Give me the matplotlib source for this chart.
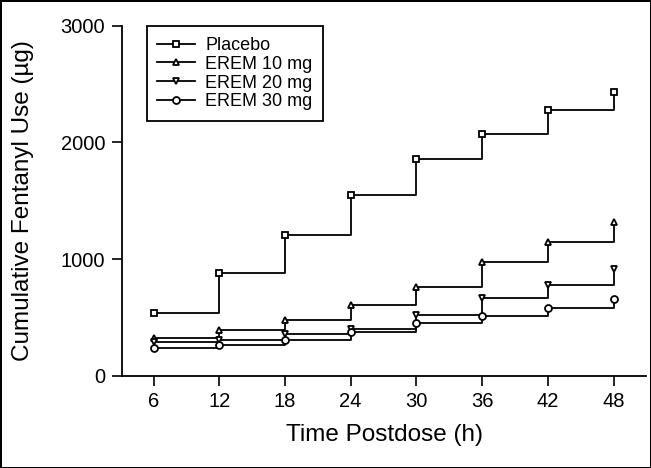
# cumulative fentanyl use vs time postdose, step plot
import numpy as np
import matplotlib.pyplot as plt

plt.rcParams['font.family'] = ['Liberation Sans', 'DejaVu Sans']

hours = [6, 12, 18, 24, 30, 36, 42, 48]
placebo = [540, 880, 1210, 1550, 1855, 2075, 2275, 2435]
erem10 = [320, 395, 478, 603, 760, 975, 1148, 1318]
erem20 = [288, 310, 358, 405, 522, 667, 782, 914]
erem30 = [235, 262, 306, 376, 451, 511, 577, 661]

series = [('Placebo', placebo, 's'),
          ('EREM 10 mg', erem10, '^'),
          ('EREM 20 mg', erem20, 'v'),
          ('EREM 30 mg', erem30, 'o')]

fig = plt.figure(figsize=(6.51, 4.68), dpi=100)
fig.patch.set_edgecolor('black')
fig.patch.set_linewidth(2)
ax = fig.add_axes([0.187, 0.197, 0.806, 0.748])

for name, vals, mk in series:
    ax.plot(hours, vals, drawstyle='steps-post', color='black', lw=1.3,
            marker=mk, ms=5, mfc='white', mec='black', mew=1.3, label=name)

ax.set_xlim(3.1, 51.0)
ax.set_ylim(0, 3000)
ax.set_xticks(hours)
ax.set_yticks([0, 1000, 2000, 3000])
ax.spines['top'].set_visible(False)
ax.spines['right'].set_visible(False)
for s in ['left', 'bottom']:
    ax.spines[s].set_linewidth(1.3)
ax.tick_params(direction='out', length=7, width=1.2, labelsize=14.5, pad=5)

ax.set_xlabel('Time Postdose (h)', fontsize=17.5)
ax.set_ylabel('Cumulative Fentanyl Use (µg)', fontsize=17.5)
ax.xaxis.set_label_coords(0.5, -0.138)
ax.yaxis.set_label_coords(-0.168, 0.5)

leg = ax.legend(loc='upper left', bbox_to_anchor=(0.048, 0.998), borderaxespad=0,
                fontsize=13, fancybox=False, framealpha=1, edgecolor='black',
                handlelength=2.1, handletextpad=0.55, labelspacing=0.1,
                borderpad=0.58)
leg.get_frame().set_linewidth(1.3)

plt.savefig('out.png', dpi=100)
